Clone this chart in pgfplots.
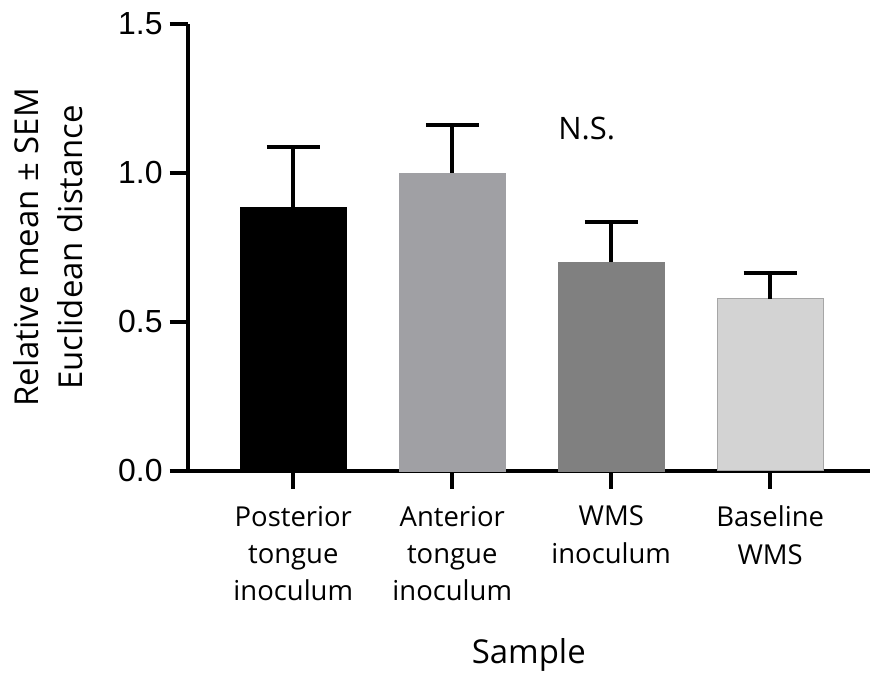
\documentclass[border=0pt]{standalone}
\usepackage{pgfplots}
\pgfplotsset{compat=1.18}
\usepackage{fontspec}
\setmainfont{Open Sans}
\newfontfamily\numfont{Liberation Sans}
\definecolor{barA}{RGB}{0,0,0}
\definecolor{barB}{RGB}{160,160,164}
\definecolor{barC}{RGB}{128,128,128}
\definecolor{barD}{RGB}{211,211,211}
\begin{document}
\begin{tikzpicture}
\begin{axis}[
  scale only axis,
  width=342pt, height=224pt,
  xmin=-0.665, xmax=3.628,
  ymin=0, ymax=1.5,
  axis lines=left,
  axis line style={-, line width=2pt},
  clip=false,
  ytick={0,0.5,1,1.5},
  xtick={0,1,2,3},
  xticklabels={{Posterior\\tongue\\inoculum},{Anterior\\tongue\\inoculum},{WMS\\inoculum},{Baseline\\WMS}},
  tick align=outside,
  major tick length=9pt,
  tick style={line width=2pt, black},
  /pgf/number format/.cd, fixed, fixed zerofill, precision=1, assume math mode=true,
  /pgfplots/.cd,
  yticklabel style={font=\numfont\fontsize{16}{19}\selectfont},
  xticklabel style={align=center, font=\fontsize{13.75}{18.7}\selectfont, yshift=-5pt},
  xlabel={Sample},
  ylabel={Relative mean ± SEM\\Euclidean distance},
  label style={font=\fontsize{16.5}{22}\selectfont},
  ylabel style={align=center},
  ylabel shift=11pt,
  xlabel shift=12pt,
  ybar,
  bar width=53pt,
  error bars/y dir=plus,
  error bars/y explicit,
  error bars/error bar style={line width=2pt, black},
  error bars/error mark options={rotate=90, line width=2pt, black, mark size=13.25pt},
]
\addplot[bar shift=0pt, fill=barA, draw=barA] coordinates {(0,0.883) +- (0,0.204)};
\addplot[bar shift=0pt, fill=barB, draw=barB] coordinates {(1,1.0) +- (0,0.161)};
\addplot[bar shift=0pt, fill=barC, draw=barC] coordinates {(2,0.701) +- (0,0.135)};
\addplot[bar shift=0pt, fill=barD, draw=gray!70, line width=0.5pt] coordinates {(3,0.577) +- (0,0.087)};
\node[font=\fontsize{15.5}{19}\selectfont] at (axis cs:1.846,1.148) {N.S.};
\end{axis}
\path ([xshift=-94pt,yshift=-101.5pt]current axis.south west) rectangle ([yshift=12pt]current axis.north east);
\end{tikzpicture}
\end{document}
